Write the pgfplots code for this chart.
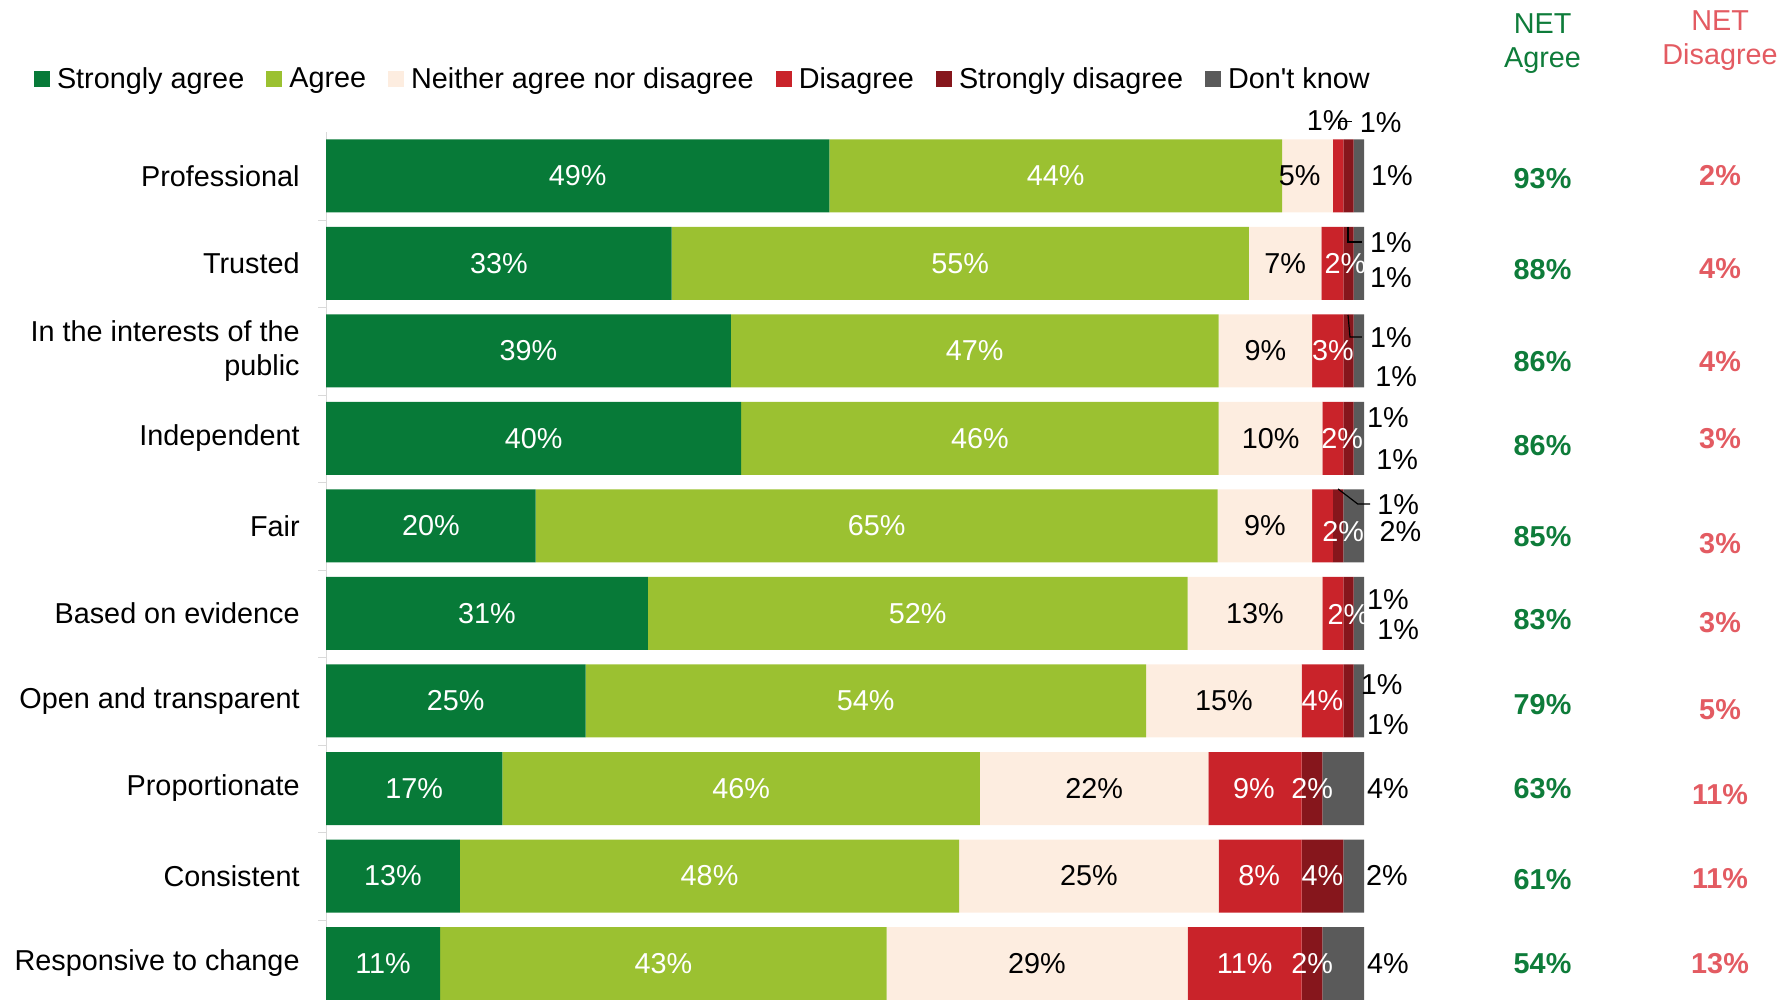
\documentclass[border=0pt]{standalone}
\usepackage{pgfplots}
\pgfplotsset{compat=1.18}
\usepackage{pgfplotstable}
\usepackage{fontspec}
\setmainfont{Liberation Sans}[Ligatures=TeXOff]

\definecolor{sa}{HTML}{077A38}
\definecolor{ag}{HTML}{9BC131}
\definecolor{ne}{HTML}{FDEDE0}
\definecolor{di}{HTML}{C9232A}
\definecolor{sd}{HTML}{86161C}
\definecolor{dk}{HTML}{5A5A5A}
\definecolor{netg}{HTML}{0E7C3A}
\definecolor{netr}{HTML}{E35B62}

\newcommand{\fs}{\fontsize{14.4}{17}\selectfont}
% label inside/outside a bar: x, y, text, colour
\newcommand{\lb}[4]{\node[text=#4, inner sep=0pt] at (axis cs:#1,#2) {#3};}
% NET figures: y, agree, disagree y, disagree
\newcommand{\net}[4]{%
  \node[text=netg, font=\fs\bfseries, inner sep=0pt] at (axis cs:117.2,#1) {#2\%};
  \node[text=netr, font=\fs\bfseries, inner sep=0pt] at (axis cs:134.3,#3) {#4\%};}

\pgfplotsset{frame/.style={
  at={(163pt,0pt)}, anchor=south west,
  scale only axis, width=519pt, height=433.9pt,
  xmin=0, xmax=100, ymin=-0.5, ymax=9.417, y dir=reverse, clip=false}}

\pgfplotstableread{
row sa   ag   ne   di  sd dk
0   48.5 43.6 4.9  1   1  1
1   33.3 55.6 7.0  2.1 1  1
2   39   47   9    3   1  1
3   40   46   10   2   1  1
4   20.2 65.7 9.1  2   1  2
5   31   52   13   2   1  1
6   25   54   15   4   1  1
7   17   46   22   9   2  4
8   12.9 48.1 25   8   4  2
9   11   43   29   11  2  4
}\datatable

\begin{document}
\begin{tikzpicture}[font=\fs]
\useasboundingbox (0,0) rectangle (891pt,500pt);
\begin{axis}[
  frame,
  xbar stacked, bar width=36.5pt,
  hide x axis, axis y line*=left,
  axis line style={gray!30},
  ytick={0,...,9},
  yticklabels={Professional, Trusted, {In the interests of the\\public}, Independent, Fair, Based on evidence, Open and transparent, Proportionate, Consistent, Responsive to change},
  yticklabel style={align=right, inner sep=0pt, xshift=-13pt, font=\fs},
  major tick length=0pt, minor ytick={0.5,1.5,...,8.5}, minor tick length=4pt,
  tick align=outside, tick style={gray!30},
  legend columns=6,
  legend style={at={(-0.2813,1.061)}, anchor=west, draw=none, fill=none,
    inner sep=0pt, outer sep=0pt, font=\fs,
    nodes={inner sep=0pt},
    /tikz/every odd column/.append style={column sep=3.5pt},
    /tikz/every even column/.append style={column sep=11pt}},
  legend image code/.code={\fill[#1] (0pt,-4pt) rectangle (8pt,4pt);},
]
\addplot[fill=sa, draw=none] table[x=sa, y=row]{\datatable};
\addplot[fill=ag, draw=none] table[x=ag, y=row]{\datatable};
\addplot[fill=ne, draw=none] table[x=ne, y=row]{\datatable};
\addplot[fill=di, draw=none] table[x=di, y=row]{\datatable};
\addplot[fill=sd, draw=none] table[x=sd, y=row]{\datatable};
\addplot[fill=dk, draw=none] table[x=dk, y=row]{\datatable};
\legend{Strongly agree, Agree, Neither agree nor disagree, Disagree, Strongly disagree, Don't know}
\end{axis}

% labels on top of the bars, same geometry
\begin{axis}[frame, hide axis]
% Professional
\lb{24.25}{0}{49\%}{white} \lb{70.3}{0}{44\%}{white} \lb{93.8}{0}{5\%}{black}
\lb{96.5}{-0.63}{1\%}{black} \lb{101.6}{-0.61}{1\%}{black} \lb{102.7}{0}{1\%}{black}
\draw[line width=0.6pt] (axis cs:97.55,-0.54) -- (axis cs:97.55,-0.62) -- (axis cs:98.8,-0.62);
% Trusted
\lb{16.65}{1}{33\%}{white} \lb{61.1}{1}{55\%}{white} \lb{92.4}{1}{7\%}{black}
\lb{98.2}{1}{2\%}{white} \lb{102.6}{0.766}{1\%}{black} \lb{102.6}{1.166}{1\%}{black}
\draw[line width=0.6pt] (axis cs:98.46,0.583) -- (axis cs:98.46,0.754) -- (axis cs:99.8,0.754);
% In the interests of the public
\lb{19.5}{2}{39\%}{white} \lb{62.5}{2}{47\%}{white} \lb{90.5}{2}{9\%}{black}
\lb{97.0}{2}{3\%}{white} \lb{102.6}{1.851}{1\%}{black} \lb{103.1}{2.297}{1\%}{black}
\draw[line width=0.6pt] (axis cs:98.46,1.589) -- (axis cs:98.65,1.84) -- (axis cs:99.8,1.84);
% Independent
\lb{20}{3}{40\%}{white} \lb{63}{3}{46\%}{white} \lb{91}{3}{10\%}{black}
\lb{97.9}{3}{2\%}{white} \lb{102.3}{2.766}{1\%}{black} \lb{103.2}{3.246}{1\%}{black}
% Fair
\lb{10.1}{4}{20\%}{white} \lb{53.05}{4}{65\%}{white} \lb{90.45}{4}{9\%}{black}
\lb{98.0}{4.069}{2\%}{white} \lb{103.3}{3.76}{1\%}{black} \lb{103.5}{4.069}{2\%}{black}
\draw[line width=0.6pt] (axis cs:97.5,3.577) -- (axis cs:99.4,3.749) -- (axis cs:100.6,3.749);
% Based on evidence
\lb{15.5}{5}{31\%}{white} \lb{57}{5}{52\%}{white} \lb{89.5}{5}{13\%}{black}
\lb{98.5}{5.017}{2\%}{white} \lb{102.3}{4.846}{1\%}{black} \lb{103.3}{5.189}{1\%}{black}
% Open and transparent
\lb{12.5}{6}{25\%}{white} \lb{52}{6}{54\%}{white} \lb{86.5}{6}{15\%}{black}
\lb{96.0}{6}{4\%}{white} \lb{101.7}{5.817}{1\%}{black} \lb{102.3}{6.274}{1\%}{black}
% Proportionate
\lb{8.5}{7}{17\%}{white} \lb{40}{7}{46\%}{white} \lb{74}{7}{22\%}{black}
\lb{89.4}{7}{9\%}{white} \lb{95.0}{7}{2\%}{white} \lb{102.3}{7}{4\%}{black}
% Consistent
\lb{6.45}{8}{13\%}{white} \lb{36.95}{8}{48\%}{white} \lb{73.5}{8}{25\%}{black}
\lb{89.9}{8}{8\%}{white} \lb{96.0}{8}{4\%}{white} \lb{102.2}{8}{2\%}{black}
% Responsive to change
\lb{5.5}{9}{11\%}{white} \lb{32.5}{9}{43\%}{white} \lb{68.5}{9}{29\%}{black}
\lb{88.5}{9}{11\%}{white} \lb{95.0}{9}{2\%}{white} \lb{102.3}{9}{4\%}{black}

% NET columns
\node[align=center, text=netg, inner sep=0pt] at (axis cs:117.2,-1.515) {NET\\Agree};
\node[align=center, text=netr, inner sep=0pt] at (axis cs:134.3,-1.545) {NET\\Disagree};
\net{0.028}{93}{0}{2}
\net{1.067}{88}{1.054}{4}
\net{2.119}{86}{2.119}{4}
\net{3.08}{86}{3.002}{3}
\net{4.119}{85}{4.197}{3}
\net{5.067}{83}{5.106}{3}
\net{6.041}{79}{6.094}{5}
\net{7.003}{63}{7.067}{11}
\net{8.041}{61}{8.029}{11}
\net{9.003}{54}{9.003}{13}
\end{axis}
\end{tikzpicture}
\end{document}
